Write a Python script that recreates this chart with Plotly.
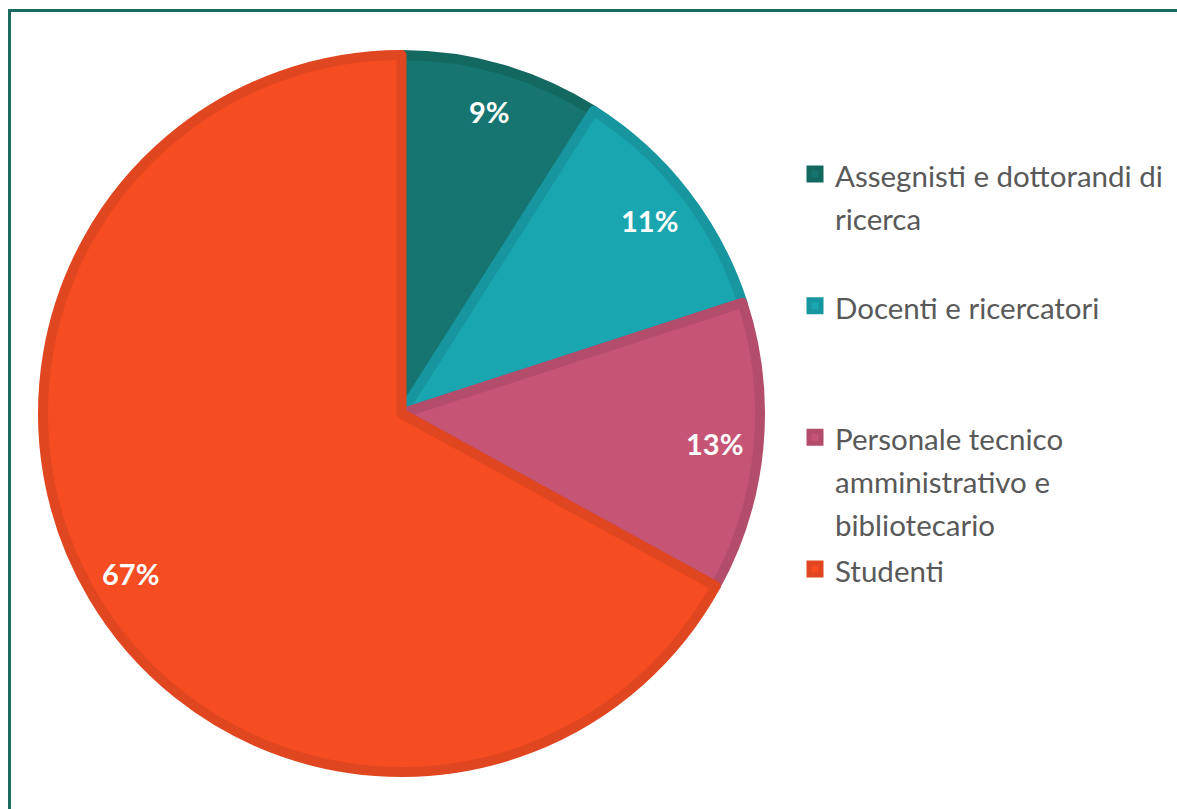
import math
import plotly.graph_objects as go

# Composizione per categoria (percentuali)
categorie = [
    ["Assegnisti e dottorandi di", "ricerca"],
    ["Docenti e ricercatori"],
    ["Personale tecnico", "amministrativo e", "bibliotecario"],
    ["Studenti"],
]
valori = [9, 11, 13, 67]

colori_fill = ["#167570", "#19A6B0", "#C65475", "#F64C22"]
colori_bordo = ["#136860", "#1796A0", "#B44D6C", "#E0461F"]

W, H = 1177, 809

# ogni voce di legenda occupa tre righe, il testo ha un corpo più piccolo
RIGHE_VOCE = 3
CORPO_TESTO = 29.5


def voce_legenda(righe):
    parti = [f"<span style='font-size:{CORPO_TESTO}px'>{r}</span>" for r in righe]
    parti += ["\u00a0"] * (RIGHE_VOCE - len(righe))
    return "<br>".join(parti)


etichette = [voce_legenda(r) for r in categorie]

# area della torta in pixel (quadrato)
px0, px1 = 43, 760
py0, py1 = 55, 772
cx, cy = (px0 + px1) / 2, (py0 + py1) / 2
raggio = (px1 - px0) / 2 + 5

fig = go.Figure(
    go.Pie(
        labels=etichette,
        values=valori,
        sort=False,
        direction="clockwise",
        rotation=0,
        marker=dict(colors=colori_fill, line=dict(color=colori_bordo, width=10)),
        textinfo="none",
        domain=dict(x=[px0 / W, px1 / W], y=[1 - py1 / H, 1 - py0 / H]),
        hoverinfo="percent",
    )
)

# etichette percentuali vicino al bordo esterno di ogni spicchio
totale = sum(valori)
cumulato = 0
annotazioni = []
for v in valori:
    ang = math.radians((cumulato + v / 2) / totale * 360)
    cumulato += v
    r = 0.865 * raggio
    x = cx + r * math.sin(ang)
    y = cy - r * math.cos(ang)
    annotazioni.append(
        dict(
            x=x / W,
            y=1 - y / H,
            xref="paper",
            yref="paper",
            text=f"{round(v / totale * 100)}%",
            showarrow=False,
            font=dict(family="Lato", size=29, color="white", weight="bold"),
            xanchor="center",
            yanchor="middle",
        )
    )

fig.update_layout(
    width=W,
    height=H,
    margin=dict(l=0, r=0, t=0, b=0),
    paper_bgcolor="white",
    plot_bgcolor="white",
    showlegend=True,
    annotations=annotazioni,
    legend=dict(
        x=795 / W,
        y=1 - 146 / H,
        xanchor="left",
        yanchor="top",
        valign="top",
        font=dict(family="Lato", size=33, color="#595959"),
        traceorder="normal",
        itemclick=False,
        bgcolor="rgba(0,0,0,0)",
    ),
    shapes=[
        dict(
            type="rect",
            xref="paper",
            yref="paper",
            x0=9.5 / W,
            x1=1.05,
            y0=-0.05,
            y1=1 - 10.5 / H,
            line=dict(color="#1D6B5F", width=3),
            fillcolor="rgba(0,0,0,0)",
            layer="above",
        )
    ],
)

fig.write_html("out.html")
